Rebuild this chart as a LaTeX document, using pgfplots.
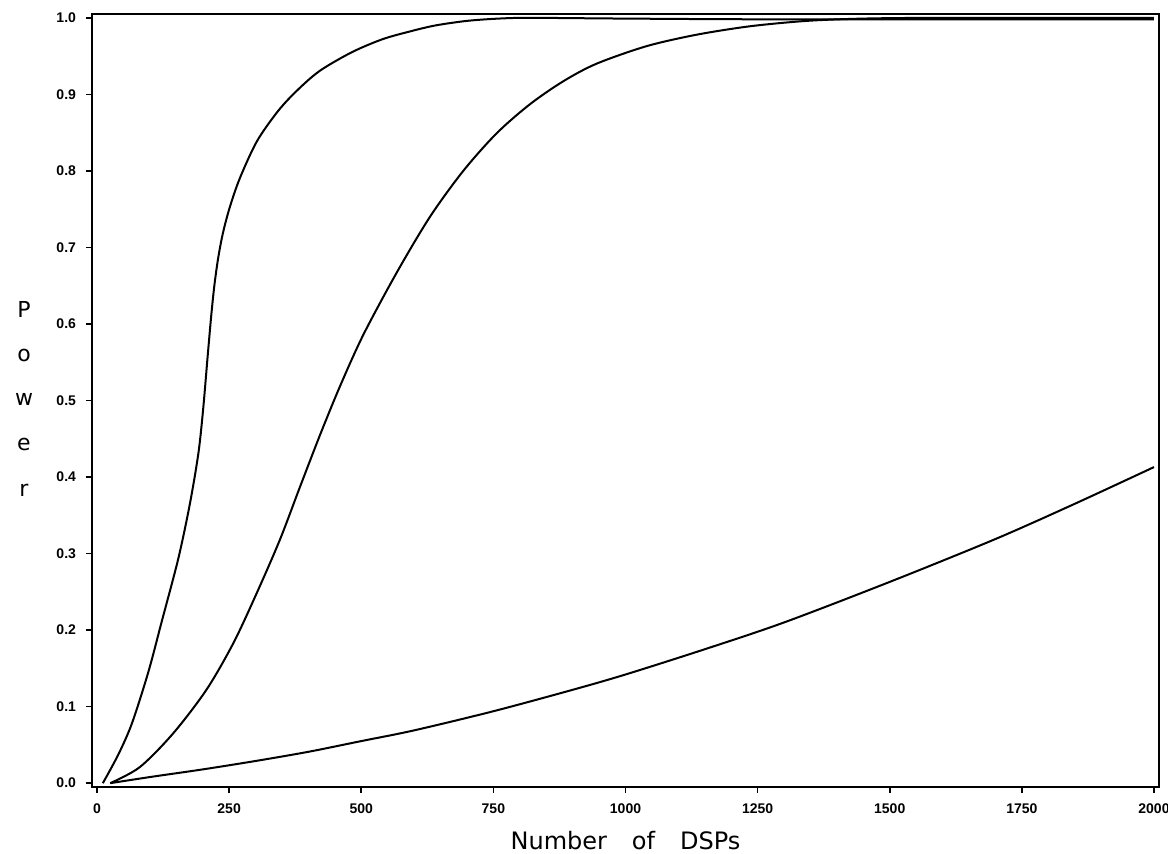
\documentclass[border=0pt]{standalone}
\usepackage{fontspec}
\setmainfont{DejaVu Sans}
\newfontfamily\tickfont{Liberation Sans}
\usepackage{pgfplots}
\pgfplotsset{compat=1.18}
\begin{document}
\begin{tikzpicture}
\useasboundingbox (0,0) rectangle (584pt,426.5pt);
\begin{axis}[
  at={(46pt,33pt)}, anchor=south west,
  scale only axis, width=533.5pt, height=386.5pt,
  xmin=-9.5, xmax=2009.5, ymin=-0.005, ymax=1.005,
  xtick={0,250,500,750,1000,1250,1500,1750,2000},
  ytick={0,0.1,0.2,0.3,0.4,0.5,0.6,0.7,0.8,0.9,1.0},
  tick align=outside, xtick pos=left, ytick pos=left,
  major tick length=3pt,
  axis line style={line width=1pt},
  tick style={line width=0.8pt, black},
  /pgf/number format/assume math mode=true,
  /pgf/number format/1000 sep={},
  ticklabel style={font=\tickfont\bfseries\fontsize{7}{8}\selectfont},
  yticklabel style={xshift=-1.5pt, /pgf/number format/.cd, fixed, fixed zerofill, precision=1},
  xticklabel style={yshift=-2pt},
]
% steepest curve
\addplot[black, line width=1pt, smooth] coordinates {
  (11,0)(40,0.037)(66,0.078)(97,0.145)(122,0.210)(154,0.294)
  (176,0.366)(192,0.432)(201,0.490)(209,0.555)(216,0.610)(222,0.650)
  (229,0.685)(238,0.718)(251,0.752)(270,0.790)(302,0.838)(340,0.876)
  (374,0.902)(420,0.930)(482,0.955)(540,0.972)(591,0.982)(640,0.990)
  (700,0.996)(760,0.999)(820,1.0)(1000,0.999)(1300,0.998)(2000,0.998)
};
% middle curve
\addplot[black, line width=1pt, smooth] coordinates {
  (25,0)(81,0.021)(144,0.065)(207,0.122)(258,0.183)(302,0.248)(346,0.318)
  (384,0.387)(422,0.455)(460,0.519)(504,0.586)(567,0.667)(630,0.740)
  (693,0.800)(756,0.849)(819,0.887)(882,0.917)(945,0.940)(1040,0.963)
  (1135,0.978)(1236,0.989)(1343,0.996)(1450,0.999)(1600,1.0)(2000,1.0)
};
% lowest curve
\addplot[black, line width=1pt, smooth] coordinates {
  (25,0)(100,0.008)(200,0.018)(300,0.029)(400,0.041)(500,0.055)(600,0.069)
  (750,0.094)(900,0.122)(1000,0.142)(1150,0.175)(1300,0.210)(1500,0.263)
  (1700,0.319)(1850,0.365)(2000,0.413)
};
\end{axis}
% axis labels
\node[font=\fontsize{12}{14}\selectfont, anchor=base] at (312.75pt,2pt)
  {Number\hspace{12.5pt}of\hspace{12.5pt}DSPs};
\begin{scope}[every node/.style={font=\fontsize{11}{13}\selectfont, anchor=base}]
  \node at (12pt,267.5pt) {P};
  \node at (12pt,245.5pt) {o};
  \node at (12pt,223.5pt) {w};
  \node at (12pt,201pt) {e};
  \node at (12pt,178.5pt) {r};
\end{scope}
\end{tikzpicture}
\end{document}
